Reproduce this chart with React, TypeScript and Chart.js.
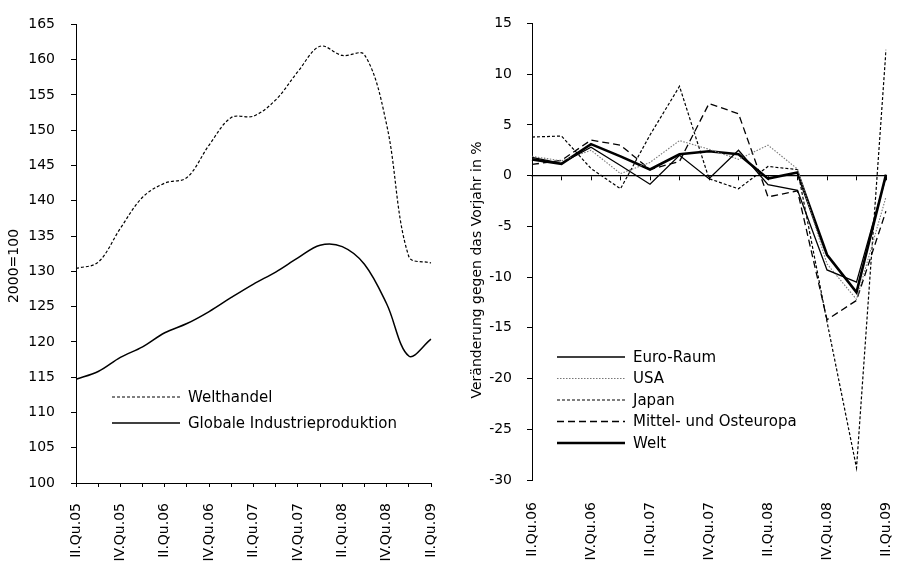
import React, { useEffect, useRef } from "react";
import { Chart, registerables } from "chart.js";

Chart.register(...registerables);

// ---------- Data: left chart (2000=100) ----------
const leftLabels = [
  "II.Qu.05", "III.Qu.05", "IV.Qu.05", "I.Qu.06", "II.Qu.06", "III.Qu.06", "IV.Qu.06",
  "I.Qu.07", "II.Qu.07", "III.Qu.07", "IV.Qu.07", "I.Qu.08", "II.Qu.08", "III.Qu.08",
  "IV.Qu.08", "I.Qu.09", "II.Qu.09",
];
const welthandel = [130.4, 131.3, 136.1, 140.5, 142.5, 143.3, 147.9, 151.8, 152.0, 154.3, 158.3, 161.9, 160.6, 160.7, 150.8, 132.1, 131.2];
const industrie = [114.7, 115.8, 117.8, 119.3, 121.3, 122.6, 124.3, 126.3, 128.2, 129.9, 131.9, 133.7, 133.5, 131.0, 125.4, 118.0, 120.4];

// ---------- Data: right chart (% change yoy) ----------
const rightLabels = [
  "II.Qu.06", "III.Qu.06", "IV.Qu.06", "I.Qu.07", "II.Qu.07", "III.Qu.07", "IV.Qu.07",
  "I.Qu.08", "II.Qu.08", "III.Qu.08", "IV.Qu.08", "I.Qu.09", "II.Qu.09",
];
const euroRaum = [1.8, 1.2, 2.8, 1.0, -0.85, 2.0, -0.3, 2.5, -0.9, -1.45, -9.3, -10.5, -0.1];
const usa = [1.9, 1.45, 2.5, 0.2, 1.3, 3.45, 2.6, 1.6, 3.0, 0.65, -8.7, -12.2, -2.1];
const japan = [3.8, 3.9, 0.7, -1.3, 4.0, 8.8, -0.3, -1.3, 0.9, 0.6, -14.4, -28.8, 12.4];
const mittelOst = [1.1, 1.5, 3.5, 3.0, 0.6, 1.4, 7.1, 6.1, -2.1, -1.5, -14.2, -12.3, -3.5];
const welt = [1.6, 1.15, 3.1, 1.9, 0.6, 2.1, 2.4, 2.1, -0.3, 0.3, -7.8, -11.5, 0.1];

const FAMILY = "'DejaVu Sans', sans-serif";
const tickFont = { family: FAMILY, size: 14 };

const legendPlugin = {
  id: "customLegend",
  afterDraw(chart: any, _args: any, opts: any) {
    const ctx = chart.ctx;
    const { x, y, gap, lineLen, textGap } = opts;
    chart.data.datasets.forEach((ds: any, i: number) => {
      const yy = y + i * gap;
      ctx.save();
      ctx.strokeStyle = ds.borderColor;
      ctx.lineWidth = ds.borderWidth;
      ctx.setLineDash(ds.borderDash || []);
      ctx.beginPath();
      ctx.moveTo(x, yy);
      ctx.lineTo(x + lineLen, yy);
      ctx.stroke();
      ctx.setLineDash([]);
      ctx.fillStyle = "#000";
      ctx.font = `15px ${FAMILY}`;
      ctx.textBaseline = "middle";
      ctx.textAlign = "left";
      ctx.fillText(ds.label, x + lineLen + textGap, yy + 1);
      ctx.restore();
    });
  },
};

const yTitlePlugin = {
  id: "yTitle",
  afterDraw(chart: any, _args: any, opts: any) {
    const ctx = chart.ctx;
    ctx.save();
    ctx.translate(opts.x, opts.y);
    ctx.rotate(-Math.PI / 2);
    ctx.fillStyle = "#000";
    ctx.font = `14px ${FAMILY}`;
    ctx.textAlign = "center";
    ctx.textBaseline = "middle";
    ctx.fillText(opts.text, 0, 0);
    ctx.restore();
  },
};

function everyOther(labels: string[]) {
  return (_v: any, i: number) => (i % 2 === 0 ? labels[i] : "");
}

function fixX(height: number) {
  return (s: any) => {
    s.height = height;
    s.paddingLeft = 0;
    s.paddingRight = 0;
  };
}

export default function App() {
  const leftRef = useRef<HTMLCanvasElement>(null);
  const rightRef = useRef<HTMLCanvasElement>(null);

  useEffect(() => {
    const left = new Chart(leftRef.current as HTMLCanvasElement, {
      type: "line",
      data: {
        labels: leftLabels,
        datasets: [
          {
            label: "Welthandel",
            data: welthandel,
            borderColor: "#000",
            borderWidth: 1.2,
            borderDash: [3, 2],
            pointRadius: 0,
            tension: 0.35,
            fill: false,
          },
          {
            label: "Globale Industrieproduktion",
            data: industrie,
            borderColor: "#000",
            borderWidth: 1.5,
            pointRadius: 0,
            tension: 0.35,
            fill: false,
          },
        ],
      },
      options: {
        responsive: false,
        animation: false,
        layout: { padding: { top: 15, right: 19, left: 0, bottom: 0 } },
        plugins: {
          legend: { display: false },
          tooltip: { enabled: false },
          customLegend: { x: 112, y: 397, gap: 26, lineLen: 68, textGap: 8 },
          yTitle: { x: 14, y: 266, text: "2000=100" },
        } as any,
        scales: {
          x: {
            type: "category",
            offset: false,
            grid: { display: true, drawOnChartArea: false, drawTicks: true, tickLength: 4, color: "#000" },
            border: { display: true, color: "#000", width: 1 },
            ticks: {
              autoSkip: false,
              maxRotation: 90,
              minRotation: 90,
              padding: 16,
              color: "#000",
              font: tickFont,
              callback: everyOther(leftLabels),
            },
            afterFit: fixX(88),
          },
          y: {
            min: 100,
            max: 165,
            ticks: { stepSize: 5, padding: 16, color: "#000", font: tickFont },
            grid: { display: true, drawOnChartArea: false, drawTicks: true, tickLength: 5, color: "#000" },
            border: { display: true, color: "#000", width: 1 },
            afterFit: (s: any) => { s.width = 76; },
          },
        },
      },
      plugins: [legendPlugin, yTitlePlugin],
    } as any);

    const right = new Chart(rightRef.current as HTMLCanvasElement, {
      type: "line",
      data: {
        labels: rightLabels,
        datasets: [
          { label: "Euro-Raum", data: euroRaum, borderColor: "#000", borderWidth: 1.3, pointRadius: 0, tension: 0, fill: false },
          { label: "USA", data: usa, borderColor: "#777", borderWidth: 1.1, borderDash: [1.5, 1.5], pointRadius: 0, tension: 0, fill: false },
          { label: "Japan", data: japan, borderColor: "#000", borderWidth: 1.2, borderDash: [3, 2], pointRadius: 0, tension: 0, fill: false },
          { label: "Mittel- und Osteuropa", data: mittelOst, borderColor: "#000", borderWidth: 1.3, borderDash: [7, 4], pointRadius: 0, tension: 0, fill: false },
          { label: "Welt", data: welt, borderColor: "#000", borderWidth: 2.6, pointRadius: 0, tension: 0, fill: false },
        ],
      },
      options: {
        responsive: false,
        animation: false,
        layout: { padding: { top: 15, right: 12, left: 0, bottom: 0 } },
        plugins: {
          legend: { display: false },
          tooltip: { enabled: false },
          customLegend: { x: 107, y: 357, gap: 21.5, lineLen: 68, textGap: 8 },
          yTitle: { x: 27, y: 270, text: "Veränderung gegen das Vorjahr in %" },
        } as any,
        scales: {
          x: {
            type: "category",
            position: "bottom",
            offset: false,
            grid: { display: false, drawOnChartArea: false, drawTicks: false },
            border: { display: false },
            ticks: {
              autoSkip: false,
              maxRotation: 90,
              minRotation: 90,
              padding: 22,
              color: "#000",
              font: tickFont,
              callback: everyOther(rightLabels),
            },
            afterFit: fixX(91),
          },
          x2: {
            type: "category",
            axis: "x",
            position: { y: 0 },
            offset: false,
            grid: { display: true, drawOnChartArea: false, drawTicks: true, tickLength: 4, color: "#000" },
            border: { display: true, color: "#000", width: 1.3 },
            ticks: { display: false },
            afterFit: (s: any) => { s.paddingLeft = 0; s.paddingRight = 0; },
          },
          y: {
            min: -30,
            max: 15,
            ticks: { stepSize: 5, padding: 15, color: "#000", font: tickFont },
            grid: { display: true, drawOnChartArea: false, drawTicks: true, tickLength: 5, color: "#000" },
            border: { display: true, color: "#000", width: 1 },
            afterFit: (s: any) => { s.width = 82; },
          },
        },
      },
      plugins: [legendPlugin, yTitlePlugin],
    } as any);

    return () => {
      left.destroy();
      right.destroy();
    };
  }, []);

  return (
    <div style={{ position: "absolute", left: 0, top: 0, width: 898, height: 571, background: "#fff" }}>
      <div style={{ position: "absolute", left: 0, top: 0, width: 450, height: 571 }}>
        <canvas ref={leftRef} width={450} height={571} style={{ display: "block" }} />
      </div>
      <div style={{ position: "absolute", left: 450, top: 0, width: 448, height: 571 }}>
        <canvas ref={rightRef} width={448} height={571} style={{ display: "block" }} />
      </div>
    </div>
  );
}
